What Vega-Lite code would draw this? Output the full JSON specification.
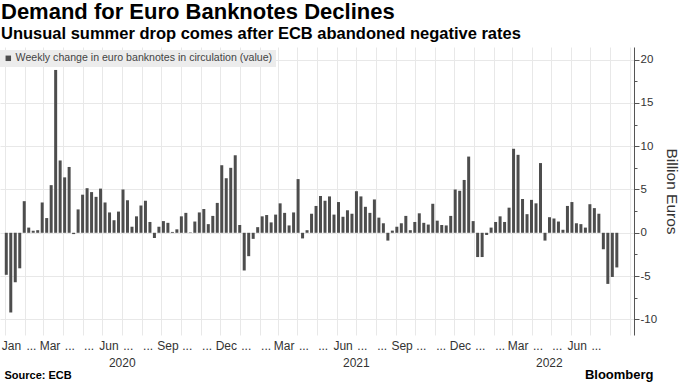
{
  "$schema": "https://vega.github.io/schema/vega-lite/v6.json",
  "width": 634,
  "height": 288,
  "autosize": {"type": "none"},
  "padding": {"left": 0, "top": 47, "right": 46, "bottom": 47},
  "background": "white",
  "config": {"view": {"stroke": null}, "font": "Liberation Sans"},
  "title": {
    "text": "Demand for Euro Banknotes Declines",
    "subtitle": "Unusual summer drop comes after ECB abandoned negative rates",
    "anchor": "start",
    "frame": "group",
    "dx": 1,
    "offset": 4,
    "font": "Liberation Sans",
    "fontSize": 22,
    "fontWeight": "bold",
    "color": "#000000",
    "subtitleFont": "Liberation Sans",
    "subtitleFontSize": 16.5,
    "subtitleFontWeight": "bold",
    "subtitleColor": "#000000",
    "subtitlePadding": 2
  },
  "data": {
    "values": [
      {"date": "2020-01-03", "value": -4.85},
      {"date": "2020-01-10", "value": -9.2},
      {"date": "2020-01-17", "value": -5.7},
      {"date": "2020-01-24", "value": -4.1},
      {"date": "2020-01-31", "value": 3.65},
      {"date": "2020-02-07", "value": 0.6},
      {"date": "2020-02-14", "value": 0.25},
      {"date": "2020-02-21", "value": 0.3},
      {"date": "2020-02-28", "value": 3.5},
      {"date": "2020-03-06", "value": 1.7},
      {"date": "2020-03-13", "value": 5.5},
      {"date": "2020-03-20", "value": 18.8},
      {"date": "2020-03-27", "value": 8.35},
      {"date": "2020-04-03", "value": 6.4},
      {"date": "2020-04-10", "value": 7.6},
      {"date": "2020-04-17", "value": -0.15},
      {"date": "2020-04-24", "value": 2.7},
      {"date": "2020-05-01", "value": 4.4},
      {"date": "2020-05-08", "value": 5.15},
      {"date": "2020-05-15", "value": 4.7},
      {"date": "2020-05-22", "value": 4.15},
      {"date": "2020-05-29", "value": 5.1},
      {"date": "2020-06-05", "value": 3.5},
      {"date": "2020-06-12", "value": 2.35},
      {"date": "2020-06-19", "value": 1.45},
      {"date": "2020-06-26", "value": 2.45},
      {"date": "2020-07-03", "value": 5.0},
      {"date": "2020-07-10", "value": 3.75},
      {"date": "2020-07-17", "value": 0.7},
      {"date": "2020-07-24", "value": 1.9},
      {"date": "2020-07-31", "value": 3.15},
      {"date": "2020-08-07", "value": 3.7},
      {"date": "2020-08-14", "value": 1.25},
      {"date": "2020-08-21", "value": -0.6},
      {"date": "2020-08-28", "value": 0.7},
      {"date": "2020-09-04", "value": 1.35},
      {"date": "2020-09-11", "value": 1.15},
      {"date": "2020-09-18", "value": 0.1},
      {"date": "2020-09-25", "value": 0.4},
      {"date": "2020-10-02", "value": 1.9},
      {"date": "2020-10-09", "value": 2.3},
      {"date": "2020-10-16", "value": 0.05},
      {"date": "2020-10-23", "value": 1.3},
      {"date": "2020-10-30", "value": 2.35},
      {"date": "2020-11-06", "value": 2.75},
      {"date": "2020-11-13", "value": 1.0},
      {"date": "2020-11-20", "value": 1.95},
      {"date": "2020-11-27", "value": 3.45},
      {"date": "2020-12-04", "value": 7.8},
      {"date": "2020-12-11", "value": 6.3},
      {"date": "2020-12-18", "value": 7.5},
      {"date": "2020-12-25", "value": 8.95},
      {"date": "2021-01-01", "value": 0.9},
      {"date": "2021-01-08", "value": -4.35},
      {"date": "2021-01-15", "value": -2.7},
      {"date": "2021-01-22", "value": -0.7},
      {"date": "2021-01-29", "value": 0.65},
      {"date": "2021-02-05", "value": 1.9},
      {"date": "2021-02-12", "value": 2.05},
      {"date": "2021-02-19", "value": 1.2},
      {"date": "2021-02-26", "value": 2.1},
      {"date": "2021-03-05", "value": 3.4},
      {"date": "2021-03-12", "value": 2.3},
      {"date": "2021-03-19", "value": 0.85},
      {"date": "2021-03-26", "value": 2.35},
      {"date": "2021-04-02", "value": 6.2},
      {"date": "2021-04-09", "value": -0.65},
      {"date": "2021-04-16", "value": 0.3},
      {"date": "2021-04-23", "value": 2.2},
      {"date": "2021-04-30", "value": 3.1},
      {"date": "2021-05-07", "value": 4.25},
      {"date": "2021-05-14", "value": 3.7},
      {"date": "2021-05-21", "value": 4.2},
      {"date": "2021-05-28", "value": 2.1},
      {"date": "2021-06-04", "value": 3.55},
      {"date": "2021-06-11", "value": 1.85},
      {"date": "2021-06-18", "value": 2.6},
      {"date": "2021-06-25", "value": 2.2},
      {"date": "2021-07-02", "value": 4.8},
      {"date": "2021-07-09", "value": 4.2},
      {"date": "2021-07-16", "value": 3.0},
      {"date": "2021-07-23", "value": 2.3},
      {"date": "2021-07-30", "value": 3.85},
      {"date": "2021-08-06", "value": 1.75},
      {"date": "2021-08-13", "value": 1.1},
      {"date": "2021-08-20", "value": -0.9},
      {"date": "2021-08-27", "value": 0.25},
      {"date": "2021-09-03", "value": 0.7},
      {"date": "2021-09-10", "value": 1.1},
      {"date": "2021-09-17", "value": 1.95},
      {"date": "2021-09-24", "value": 0.3},
      {"date": "2021-10-01", "value": 1.25},
      {"date": "2021-10-08", "value": 2.25},
      {"date": "2021-10-15", "value": 1.15},
      {"date": "2021-10-22", "value": 0.95},
      {"date": "2021-10-29", "value": 3.35},
      {"date": "2021-11-05", "value": 1.4},
      {"date": "2021-11-12", "value": 0.9},
      {"date": "2021-11-19", "value": 0.85},
      {"date": "2021-11-26", "value": 1.95},
      {"date": "2021-12-03", "value": 5.0},
      {"date": "2021-12-10", "value": 4.85},
      {"date": "2021-12-17", "value": 6.1},
      {"date": "2021-12-24", "value": 8.8},
      {"date": "2021-12-31", "value": 1.35},
      {"date": "2022-01-07", "value": -2.8},
      {"date": "2022-01-14", "value": -2.8},
      {"date": "2022-01-21", "value": -0.25},
      {"date": "2022-01-28", "value": 0.6},
      {"date": "2022-02-04", "value": 1.25},
      {"date": "2022-02-11", "value": 1.9},
      {"date": "2022-02-18", "value": 1.25},
      {"date": "2022-02-25", "value": 2.9},
      {"date": "2022-03-04", "value": 9.7},
      {"date": "2022-03-11", "value": 9.0},
      {"date": "2022-03-18", "value": 3.9},
      {"date": "2022-03-25", "value": 2.15},
      {"date": "2022-04-01", "value": 3.8},
      {"date": "2022-04-08", "value": 3.4},
      {"date": "2022-04-15", "value": 8.05},
      {"date": "2022-04-22", "value": -0.9},
      {"date": "2022-04-29", "value": 1.8},
      {"date": "2022-05-06", "value": 1.65},
      {"date": "2022-05-13", "value": 1.3},
      {"date": "2022-05-20", "value": 0.35},
      {"date": "2022-05-27", "value": 3.1},
      {"date": "2022-06-03", "value": 3.55},
      {"date": "2022-06-10", "value": 1.1},
      {"date": "2022-06-17", "value": 1.0},
      {"date": "2022-06-24", "value": 0.6},
      {"date": "2022-07-01", "value": 3.3},
      {"date": "2022-07-08", "value": 2.85},
      {"date": "2022-07-15", "value": 2.2},
      {"date": "2022-07-22", "value": -1.9},
      {"date": "2022-07-29", "value": -5.9},
      {"date": "2022-08-05", "value": -5.1},
      {"date": "2022-08-12", "value": -4.0}
    ]
  },
  "layer": [
    {
      "mark": {"type": "bar", "width": 3},
      "encoding": {
        "x": {
          "field": "date",
          "type": "temporal",
          "scale": {
            "type": "utc",
            "domain": [
              {"year": 2020, "month": 1, "date": 1, "utc": true},
              {"year": 2022, "month": 8, "date": 31, "utc": true}
            ]
          },
          "axis": {
            "orient": "bottom",
            "tickCount": {"interval": "month", "step": 1},
            "grid": true,
            "gridColor": "#e8e8e8",
            "gridWidth": 1,
            "ticks": false,
            "domain": false,
            "labelExpr": "(utcyear(datum.value) == 2022 && utcmonth(datum.value) >= 7) ? '' : ((utcyear(datum.value) == 2020 && utcmonth(datum.value) == 0) ? 'Jan' : (utcmonth(datum.value) % 3 == 2 ? utcFormat(datum.value, '%b') : '...'))",
            "labelOffset": 6,
            "labelPadding": 5,
            "labelFont": "Liberation Sans",
            "labelFontSize": 12,
            "labelColor": "#333333",
            "labelOverlap": false,
            "labelBound": false,
            "labelFlush": true,
            "title": "Bloomberg",
            "titleX": 653,
            "titleY": 43,
            "titleAlign": "right",
            "titleBaseline": "alphabetic",
            "titleFont": "Liberation Sans",
            "titleFontSize": 13,
            "titleFontWeight": "bold",
            "titleColor": "#000000"
          }
        },
        "y": {
          "field": "value",
          "type": "quantitative",
          "scale": {"domain": [-11.8, 21.45], "nice": false, "zero": false},
          "axis": {
            "orient": "right",
            "values": [-10, -7.5, -5, -2.5, 0, 2.5, 5, 7.5, 10, 12.5, 15, 17.5, 20],
            "labelExpr": "datum.value % 5 == 0 ? '' + datum.value : ''",
            "grid": true,
            "gridColor": {"condition": {"test": "datum.value % 5 != 0", "value": "transparent"}, "value": "#e8e8e8"},
            "domain": true,
            "domainColor": "#555555",
            "tickColor": "#555555",
            "tickSize": {"condition": {"test": "datum.value % 5 != 0", "value": 3}, "value": 5},
            "labelPadding": 1,
            "labelFont": "Liberation Sans",
            "labelFontSize": 11.5,
            "labelColor": "#333333",
            "title": "Billion Euros",
            "titleAngle": 90,
            "titleX": 37,
            "titleY": 144,
            "titleAlign": "center",
            "titleBaseline": "middle",
            "titleFont": "Liberation Sans",
            "titleFontSize": 15.5,
            "titleFontWeight": "normal",
            "titleColor": "#333333"
          }
        },
        "color": {
          "datum": "Weekly change in euro banknotes in circulation (value)",
          "scale": {"range": ["#4d4d4d"]},
          "legend": {
            "orient": "none",
            "legendX": 0,
            "legendY": 3,
            "title": null,
            "fillColor": "#ececec",
            "padding": 3,
            "symbolType": "square",
            "symbolSize": 30,
            "symbolStrokeWidth": 0,
            "labelFont": "Liberation Sans",
            "labelFontSize": 10.6,
            "labelColor": "#444444",
            "labelLimit": 400,
            "labelOffset": 2
          }
        }
      }
    },
    {
      "mark": {"type": "point", "opacity": 0},
      "encoding": {
        "x": {
          "field": "date",
          "type": "temporal",
          "scale": {
            "type": "utc",
            "domain": [
              {"year": 2020, "month": 1, "date": 1, "utc": true},
              {"year": 2022, "month": 8, "date": 31, "utc": true}
            ]
          },
          "axis": {
            "orient": "bottom",
            "values": [
              {"year": 2020, "month": 7, "date": 1, "utc": true},
              {"year": 2021, "month": 7, "date": 1, "utc": true},
              {"year": 2022, "month": 4, "date": 28, "utc": true}
            ],
            "labelExpr": "utcFormat(datum.value, '%Y')",
            "grid": false,
            "ticks": false,
            "domain": false,
            "labelPadding": 22,
            "labelFont": "Liberation Sans",
            "labelFontSize": 12,
            "labelColor": "#333333",
            "labelOverlap": false,
            "title": "Source: ECB",
            "titleX": 4,
            "titleY": 43,
            "titleAlign": "left",
            "titleBaseline": "alphabetic",
            "titleFont": "Liberation Sans",
            "titleFontSize": 11,
            "titleFontWeight": "bold",
            "titleColor": "#000000"
          }
        }
      }
    }
  ],
  "resolve": {"axis": {"x": "independent"}}
}
